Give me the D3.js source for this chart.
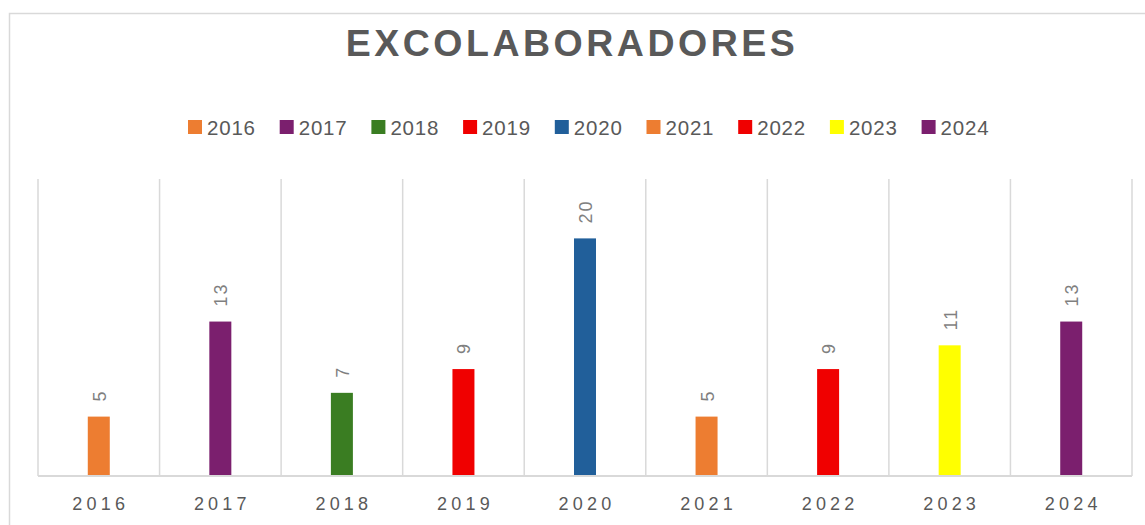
<!DOCTYPE html>
<html>
<head>
<meta charset="utf-8">
<script src="https://cdn.jsdelivr.net/npm/d3@7"></script>
<style>
  body { margin: 0; background: #fff; }
  text { font-family: "Liberation Sans", Arial, sans-serif; }
</style>
</head>
<body>
<svg id="chart" width="1145" height="525"></svg>
<script>
// data
const years = ['2016', '2017', '2018', '2019', '2020', '2021', '2022', '2023', '2024']
const counts = [5, 13, 7, 9, 20, 5, 9, 11, 13]
const colors = ['#ED7D31', '#7B1F6E', '#3A7D22', '#F00000', '#215F9A', '#ED7D31', '#F00000', '#FFFF00', '#7B1F6E']

const svg = d3.select('#chart')
const W = 1145
const H = 525
const grid = '#d9d9d9'
const textCol = '#595959'

// outer chart frame (runs past the right and bottom edges)
svg.append('rect')
  .attr('x', 9.5).attr('y', 13.5)
  .attr('width', W).attr('height', H)
  .attr('fill', '#fff')
  .attr('stroke', grid).attr('stroke-width', 1.5)

const plot = { left: 38, right: 1132, top: 179, bottom: 476 }

const x = d3.scaleBand()
  .domain(years)
  .range([plot.left, plot.right])
  .paddingInner(0)
  .paddingOuter(0)

const y = d3.scaleLinear()
  .domain([0, 25])
  .range([plot.bottom, plot.top])

// vertical category dividers
const edges = years.map(d => x(d)).concat([plot.right])
svg.append('g')
  .selectAll('line')
  .data(edges)
  .join('line')
  .attr('x1', d => d).attr('x2', d => d)
  .attr('y1', plot.top).attr('y2', plot.bottom)
  .attr('stroke', grid).attr('stroke-width', 1.5)

// bars
const barW = 22
svg.append('g')
  .selectAll('rect')
  .data(years)
  .join('rect')
  .attr('x', d => x(d) + x.bandwidth() / 2 - barW / 2)
  .attr('y', (d, i) => y(counts[i]))
  .attr('width', barW)
  .attr('height', (d, i) => plot.bottom - y(counts[i]))
  .attr('fill', (d, i) => colors[i])

// baseline
svg.append('line')
  .attr('x1', plot.left).attr('x2', plot.right)
  .attr('y1', plot.bottom).attr('y2', plot.bottom)
  .attr('stroke', grid).attr('stroke-width', 2)

// value labels, rotated
svg.append('g')
  .selectAll('text')
  .data(years)
  .join('text')
  .attr('transform', (d, i) => {
    const cx = x(d) + x.bandwidth() / 2
    return `translate(${cx + 7},${y(counts[i]) - 15}) rotate(-90)`
  })
  .attr('text-anchor', 'start')
  .attr('font-size', 18)
  .attr('letter-spacing', 2)
  .attr('fill', '#7f7f7f')
  .text((d, i) => counts[i])

// x axis labels
svg.append('g')
  .selectAll('text')
  .data(years)
  .join('text')
  .attr('x', d => x(d) + x.bandwidth() / 2 + 2)
  .attr('y', 510)
  .attr('text-anchor', 'middle')
  .attr('font-size', 18)
  .attr('letter-spacing', 4.2)
  .attr('fill', textCol)
  .text(d => d)

// title
svg.append('text')
  .attr('x', 572)
  .attr('y', 56)
  .attr('text-anchor', 'middle')
  .attr('font-size', 37.5)
  .attr('font-weight', 'bold')
  .attr('letter-spacing', 3.5)
  .attr('fill', textCol)
  .text('EXCOLABORADORES')

// legend
const legend = svg.append('g')
  .selectAll('g')
  .data(years)
  .join('g')
  .attr('transform', (d, i) => `translate(${188 + i * 91.7},120)`)
legend.append('rect')
  .attr('width', 14).attr('height', 14)
  .attr('fill', (d, i) => colors[i])
legend.append('text')
  .attr('x', 19).attr('y', 15)
  .attr('font-size', 20.5)
  .attr('letter-spacing', 0.8)
  .attr('fill', textCol)
  .text(d => d)
</script>
</body>
</html>
